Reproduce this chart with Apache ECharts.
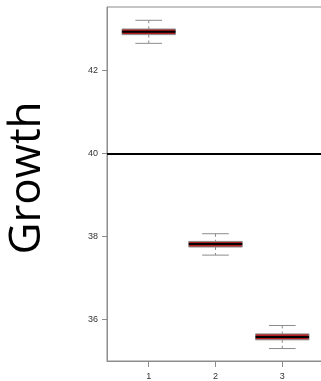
<!DOCTYPE html>
<html>
<head>
<meta charset="utf-8">
<script src="https://cdn.jsdelivr.net/npm/echarts@6/dist/echarts.min.js"></script>
<style>
  html, body { margin: 0; padding: 0; background: #fff; overflow: hidden; }
  #chart { width: 324px; height: 381px; }
</style>
</head>
<body>
<div id="chart"></div>
<script>
// Groups along the x axis
const groups = [1, 2, 3];
// Five-number summaries per group
const whiskerLow = [42.65, 37.55, 35.30];
const q1Values   = [42.86, 37.745, 35.51];
const medians    = [42.93, 37.817, 35.58];
const q3Values   = [42.995, 37.88, 35.653];
const whiskerHigh = [43.205, 38.065, 35.855];
// Reference level drawn across the plot
const referenceLevel = 40;
// Tick labels
const yTicks = [36, 38, 40, 42];
const xTicks = [1, 2, 3];

const boxData = groups.map((g, i) => [g, whiskerLow[i], q1Values[i], medians[i], q3Values[i], whiskerHigh[i]]);

const BOX_HALF = 0.4;
const CAP_HALF = 0.2;
const GREY = '#8c8c8c';

function renderBox(params, api) {
  const x = api.value(0);
  const lo = api.coord([x, api.value(1)]);
  const q1 = api.coord([x, api.value(2)]);
  const md = api.coord([x, api.value(3)]);
  const q3 = api.coord([x, api.value(4)]);
  const hi = api.coord([x, api.value(5)]);
  const left = api.coord([x - BOX_HALF, 0])[0];
  const right = api.coord([x + BOX_HALF, 0])[0];
  const capL = api.coord([x - CAP_HALF, 0])[0];
  const capR = api.coord([x + CAP_HALF, 0])[0];
  const cx = lo[0];
  return {
    type: 'group',
    children: [
      { type: 'line', shape: { x1: cx, y1: hi[1], x2: cx, y2: q3[1] },
        style: { stroke: GREY, lineWidth: 1, lineDash: [3, 3] } },
      { type: 'line', shape: { x1: cx, y1: q1[1], x2: cx, y2: lo[1] },
        style: { stroke: GREY, lineWidth: 1, lineDash: [3, 3] } },
      { type: 'line', shape: { x1: capL, y1: hi[1], x2: capR, y2: hi[1] },
        style: { stroke: GREY, lineWidth: 1 } },
      { type: 'line', shape: { x1: capL, y1: lo[1], x2: capR, y2: lo[1] },
        style: { stroke: GREY, lineWidth: 1 } },
      { type: 'rect', shape: { x: left, y: q3[1], width: right - left, height: q1[1] - q3[1] },
        style: { fill: '#b01e22', stroke: GREY, lineWidth: 1 } },
      { type: 'line', shape: { x1: left, y1: md[1], x2: right, y2: md[1] },
        style: { stroke: '#000', lineWidth: 2 } }
    ]
  };
}

const chart = echarts.init(document.getElementById('chart'), null, { renderer: 'canvas' });
chart.setOption({
  animation: false,
  backgroundColor: '#fff',
  grid: {
    left: 107, top: 7, right: 0, bottom: 20,
    show: true, borderColor: GREY, borderWidth: 1, backgroundColor: 'transparent'
  },
  graphic: [{
    type: 'text',
    x: 27, y: 178,
    rotation: Math.PI / 2,
    style: {
      text: 'Growth',
      font: '44px "Open Sans"',
      fill: '#000',
      textAlign: 'center',
      textVerticalAlign: 'middle'
    }
  }],
  xAxis: {
    type: 'value',
    min: 0.375, max: 3.625,
    splitLine: { show: false },
    axisLine: { show: true, lineStyle: { color: GREY, width: 1 } },
    axisTick: { show: true, customValues: xTicks, length: 6, lineStyle: { color: GREY } },
    axisLabel: { customValues: xTicks, margin: 11, fontSize: 9, color: '#333', fontFamily: 'Liberation Sans' }
  },
  yAxis: {
    type: 'value',
    min: 35, max: 43.525,
    splitLine: { show: false },
    axisLine: { show: true, lineStyle: { color: GREY, width: 1 } },
    axisTick: { show: true, customValues: yTicks, length: 5, lineStyle: { color: GREY } },
    axisLabel: { customValues: yTicks, margin: 9, fontSize: 9, color: '#333', fontFamily: 'Liberation Sans' }
  },
  series: [{
    type: 'custom',
    renderItem: renderBox,
    data: boxData,
    encode: { x: 0, y: [1, 2, 3, 4, 5] },
    markLine: {
      silent: true,
      symbol: 'none',
      label: { show: false },
      lineStyle: { color: '#000', width: 2, type: 'solid' },
      data: [{ yAxis: referenceLevel }]
    }
  }]
});
</script>
</body>
</html>
